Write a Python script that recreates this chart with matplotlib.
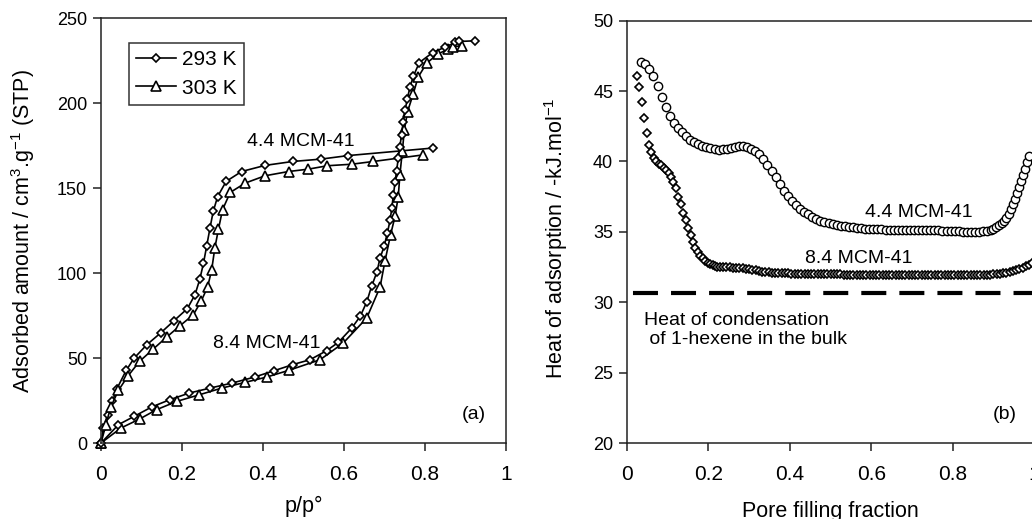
import matplotlib.pyplot as plt

plt.rcParams['font.family'] = ['Liberation Sans', 'DejaVu Sans']
plt.rcParams['mathtext.fontset'] = 'custom'
plt.rcParams['mathtext.rm'] = 'Liberation Sans'
plt.rcParams['mathtext.it'] = 'Liberation Sans'
plt.rcParams['lines.scale_dashes'] = False

# --- (a) isotherms: relative pressure vs adsorbed amount ---
p_44_293 = [0, 0.006, 0.016, 0.028, 0.039, 0.062, 0.082, 0.113, 0.147, 0.180, 0.213, 0.232,
            0.244, 0.253, 0.261, 0.269, 0.277, 0.288, 0.309, 0.347, 0.405, 0.473, 0.543,
            0.611, 0.819]
n_44_293 = [0, 8.8, 16.7, 24.5, 31.8, 42.7, 50.0, 57.8, 64.7, 71.9, 79.0, 87.2,
            96.4, 105.8, 116.0, 126.4, 136.2, 145.0, 153.9, 159.7, 163.3, 165.6, 167.0,
            169.1, 173.5]

p_44_303 = [0, 0.012, 0.024, 0.043, 0.067, 0.095, 0.129, 0.162, 0.195, 0.228, 0.247, 0.263,
            0.273, 0.281, 0.290, 0.300, 0.319, 0.356, 0.405, 0.463, 0.512, 0.559, 0.619,
            0.672, 0.796]
n_44_303 = [0, 10.8, 21.2, 31.0, 39.6, 48.0, 55.3, 62.3, 69.0, 75.5, 83.3, 91.7,
            101.5, 114.7, 125.8, 137.2, 147.4, 152.9, 157.2, 159.7, 161.1, 163.1, 164.0,
            165.6, 169.5]

p_84_293 = [0, 0.043, 0.082, 0.125, 0.170, 0.218, 0.269, 0.324, 0.379, 0.427, 0.473, 0.516,
            0.557, 0.586, 0.619, 0.640, 0.656, 0.668, 0.681, 0.689, 0.699, 0.707, 0.714,
            0.718, 0.722, 0.726, 0.730, 0.734, 0.738, 0.742, 0.746, 0.751, 0.756, 0.763,
            0.771, 0.786, 0.819, 0.849, 0.874, 0.885, 0.923]
n_84_293 = [0, 10.8, 15.7, 21.2, 25.5, 29.4, 32.3, 35.3, 38.8, 42.5, 46.1, 49.0,
            54.3, 59.2, 67.6, 74.5, 82.9, 92.1, 100.4, 108.8, 115.6, 123.5, 131.3,
            138.2, 146.0, 153.3, 160.3, 167.6, 174.4, 181.3, 188.6, 195.6, 202.3, 209.3,
            215.6, 223.8, 229.7, 232.8, 235.6, 236.2, 236.6]

p_84_303 = [0, 0.049, 0.095, 0.137, 0.187, 0.243, 0.298, 0.356, 0.409, 0.463, 0.541, 0.598,
            0.656, 0.689, 0.701, 0.715, 0.726, 0.734, 0.738, 0.744, 0.749, 0.757, 0.771,
            0.783, 0.804, 0.832, 0.858, 0.870, 0.891]
n_84_303 = [0, 8.8, 14.1, 19.6, 24.5, 28.4, 32.3, 35.7, 38.8, 42.7, 49.0, 58.8,
            73.5, 91.7, 106.8, 122.5, 133.3, 145.0, 157.8, 171.5, 184.2, 195.0, 205.4,
            215.2, 223.4, 228.9, 231.7, 233.2, 233.6]

# --- (b) heat of adsorption vs pore filling fraction ---
f_44 = [0.035, 0.045, 0.055, 0.065, 0.075, 0.085, 0.095, 0.105, 0.115, 0.125, 0.135, 0.145,
        0.155, 0.165, 0.175, 0.185, 0.195, 0.205, 0.215, 0.225, 0.235, 0.245, 0.255, 0.265,
        0.275, 0.285, 0.295, 0.305, 0.315, 0.325, 0.335, 0.345, 0.355, 0.365, 0.375, 0.385,
        0.395, 0.405, 0.415, 0.425, 0.435, 0.445, 0.455, 0.465, 0.475, 0.485, 0.495, 0.505,
        0.515, 0.525, 0.535, 0.545, 0.555, 0.565, 0.575, 0.585, 0.595, 0.605, 0.615, 0.625,
        0.635, 0.645, 0.655, 0.665, 0.675, 0.685, 0.695, 0.705, 0.715, 0.725, 0.735, 0.745,
        0.755, 0.765, 0.775, 0.785, 0.795, 0.805, 0.815, 0.825, 0.835, 0.845, 0.855, 0.865,
        0.875, 0.885, 0.893, 0.900, 0.907, 0.914, 0.920, 0.926, 0.932, 0.938, 0.943, 0.948,
        0.953, 0.958, 0.963, 0.968, 0.973, 0.978, 0.983, 0.988]
q_44 = [47.10, 46.95, 46.60, 46.10, 45.35, 44.60, 43.90, 43.25, 42.75, 42.40, 42.10, 41.80,
        41.55, 41.38, 41.25, 41.12, 41.00, 40.93, 40.88, 40.85, 40.86, 40.90, 40.97, 41.05,
        41.10, 41.10, 41.03, 40.92, 40.75, 40.55, 40.20, 39.78, 39.35, 38.90, 38.40, 37.92,
        37.53, 37.18, 36.88, 36.65, 36.42, 36.24, 36.07, 35.92, 35.78, 35.67, 35.60, 35.54,
        35.50, 35.45, 35.40, 35.35, 35.31, 35.28, 35.25, 35.23, 35.21, 35.20, 35.18, 35.17,
        35.16, 35.15, 35.15, 35.15, 35.15, 35.15, 35.15, 35.15, 35.15, 35.14, 35.13, 35.12,
        35.11, 35.10, 35.09, 35.07, 35.06, 35.05, 35.03, 35.02, 35.00, 35.00, 35.00, 35.02,
        35.05, 35.08, 35.13, 35.22, 35.33, 35.47, 35.62, 35.80, 36.02, 36.28, 36.60, 36.95,
        37.35, 37.78, 38.20, 38.62, 39.05, 39.50, 39.95, 40.40]

f_84 = [0.024, 0.030, 0.036, 0.042, 0.048, 0.054, 0.060, 0.066, 0.072, 0.078, 0.084, 0.090,
        0.096, 0.102, 0.108, 0.114, 0.120, 0.126, 0.132, 0.138, 0.144, 0.150, 0.156, 0.162,
        0.168, 0.174, 0.180, 0.186, 0.192, 0.198, 0.204, 0.210, 0.216, 0.222, 0.228,
        0.236, 0.244, 0.252, 0.260, 0.268, 0.276, 0.284, 0.292, 0.300, 0.308, 0.316, 0.324,
        0.332, 0.340, 0.348, 0.356, 0.364, 0.372, 0.380, 0.388, 0.396, 0.404, 0.412, 0.420,
        0.428, 0.436, 0.444, 0.452, 0.460, 0.468, 0.476, 0.484, 0.492, 0.500, 0.508, 0.516,
        0.524, 0.532, 0.540, 0.548, 0.556, 0.564, 0.572, 0.580, 0.588, 0.596, 0.604, 0.612,
        0.620, 0.628, 0.636, 0.644, 0.652, 0.660, 0.668, 0.676, 0.684, 0.692, 0.700, 0.708,
        0.716, 0.724, 0.732, 0.740, 0.748, 0.756, 0.764, 0.772, 0.780, 0.788, 0.796, 0.804,
        0.812, 0.820, 0.828, 0.836, 0.844, 0.852, 0.860, 0.868, 0.876, 0.884, 0.892, 0.900,
        0.908, 0.916, 0.924, 0.932, 0.940, 0.948, 0.956, 0.964, 0.972, 0.980, 0.988, 0.996]
q_84 = [46.10, 45.30, 44.20, 43.10, 42.05, 41.20, 40.70, 40.28, 40.03, 39.85, 39.72, 39.57,
        39.42, 39.20, 38.90, 38.55, 38.10, 37.50, 36.95, 36.35, 35.85, 35.30, 34.75, 34.25,
        33.85, 33.55, 33.30, 33.12, 32.95, 32.82, 32.72, 32.64, 32.58, 32.53, 32.50,
        32.49, 32.48, 32.47, 32.46, 32.45, 32.43, 32.40, 32.37, 32.33, 32.30, 32.26, 32.22,
        32.18, 32.15, 32.12, 32.10, 32.09, 32.08, 32.07, 32.06, 32.05, 32.04, 32.03, 32.03,
        32.02, 32.02, 32.01, 32.01, 32.00, 32.00, 32.00, 31.99, 31.99, 31.99, 31.98, 31.98,
        31.98, 31.97, 31.97, 31.97, 31.96, 31.96, 31.96, 31.96, 31.95, 31.95, 31.95, 31.95,
        31.95, 31.95, 31.95, 31.94, 31.94, 31.94, 31.94, 31.94, 31.93, 31.93, 31.93, 31.93,
        31.93, 31.93, 31.93, 31.93, 31.93, 31.93, 31.93, 31.93, 31.93, 31.93, 31.93, 31.93,
        31.93, 31.93, 31.93, 31.93, 31.93, 31.93, 31.94, 31.94, 31.95, 31.96, 31.97, 31.98,
        32.00, 32.02, 32.05, 32.09, 32.14, 32.20, 32.28, 32.37, 32.46, 32.56, 32.67, 32.80]

q_bulk = 30.65

x_ticks = [0, 0.2, 0.4, 0.6, 0.8, 1]
x_ticklabels = ['0', '0.2', '0.4', '0.6', '0.8', '1']

fig = plt.figure(figsize=(10.32, 5.19), dpi=100)
ax1 = fig.add_axes([0.0979, 0.1464, 0.3924, 0.8189])
ax2 = fig.add_axes([0.6076, 0.1464, 0.3944, 0.8137])

spine_col = '#222222'
for ax in (ax1, ax2):
    for s in ax.spines.values():
        s.set_color(spine_col)
        s.set_linewidth(1.1)
    ax.tick_params(axis='both', direction='out', length=6, width=1.1, color=spine_col)
    ax.tick_params(axis='x', labelsize=15, pad=10)
    ax.tick_params(axis='y', labelsize=13, pad=4)
    ax.set_xlim(0, 1)
    ax.set_xticks(x_ticks)
    ax.set_xticklabels(x_ticklabels)

# ---- panel (a) ----
diam = dict(marker='D', ms=4.4, mfc='white', mec='black', mew=1.2, color='black', lw=1.2, clip_on=False)
tri = dict(marker='^', ms=6.8, mfc='white', mec='black', mew=1.2, color='black', lw=1.2, clip_on=False)

l293, = ax1.plot(p_44_293, n_44_293, **diam)
l303, = ax1.plot(p_44_303, n_44_303, **tri)
ax1.plot(p_84_303, n_84_303, **tri)
ax1.plot(p_84_293, n_84_293, **diam)

ax1.set_ylim(0, 250)
ax1.set_yticks([0, 50, 100, 150, 200, 250])
ax1.set_xlabel('p/p°', fontsize=15.5)
ax1.xaxis.set_label_coords(0.5, -0.125)
ax1.set_ylabel('Adsorbed amount / cm$^3$.g$^{-1}$ (STP)', fontsize=15.5)
ax1.yaxis.set_label_coords(-0.158, 0.5)

leg = ax1.legend([l293, l303], ['293 K', '303 K'], loc='upper left',
                 bbox_to_anchor=(0.069, 0.941), fontsize=15, frameon=True, fancybox=False,
                 handlelength=1.9, handletextpad=0.3, borderpad=0.35, labelspacing=0.45,
                 borderaxespad=0)
leg.get_frame().set_edgecolor('black')
leg.get_frame().set_linewidth(1.1)

ax1.text(0.36, 177.6, '4.4 MCM-41', fontsize=14, ha='left', va='center')
ax1.text(0.277, 58.8, '8.4 MCM-41', fontsize=14, ha='left', va='center')
ax1.text(0.891, 16.5, '(a)', fontsize=14, ha='left', va='center')

# ---- panel (b) ----
ax2.plot(f_44, q_44, ls='none', marker='o', ms=6.0, mfc='white', mec='black', mew=1.0)
ax2.plot(f_84, q_84, ls='none', marker='D', ms=4.0, mfc='white', mec='black', mew=1.2)
ax2.plot([0, 1], [q_bulk, q_bulk], color='black', lw=3, ls=(23.1, (18, 9.4)))

ax2.set_ylim(20, 50)
ax2.set_yticks([20, 25, 30, 35, 40, 45, 50])
ax2.set_xlabel('Pore filling fraction', fontsize=15.5)
ax2.xaxis.set_label_coords(0.5, -0.137)
ax2.set_ylabel('Heat of adsorption / -kJ.mol$^{-1}$', fontsize=15.5)
ax2.yaxis.set_label_coords(-0.14, 0.485)

ax2.text(0.585, 36.4, '4.4 MCM-41', fontsize=14, ha='left', va='center')
ax2.text(0.437, 33.08, '8.4 MCM-41', fontsize=14, ha='left', va='center')
ax2.text(0.042, 29.3, 'Heat of condensation\n of 1-hexene in the bulk', fontsize=14,
         ha='left', va='top', linespacing=1.15)
ax2.text(0.899, 22.0, '(b)', fontsize=14, ha='left', va='center')

fig.savefig('out.png', dpi=100)
